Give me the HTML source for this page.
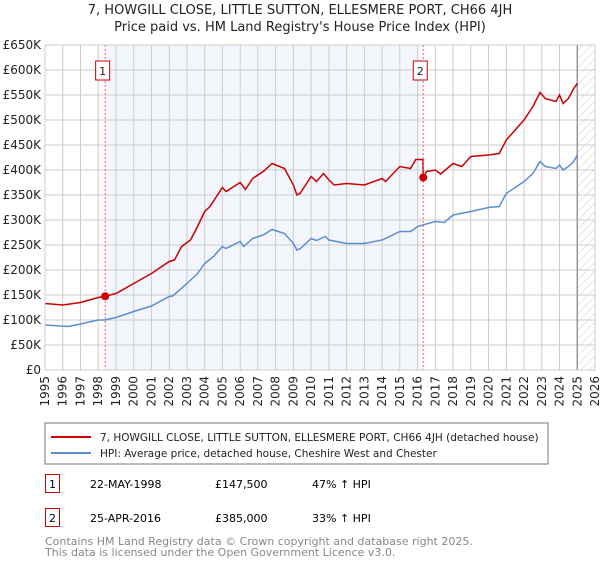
<!DOCTYPE html>
<html><head><meta charset="utf-8"><style>
body{margin:0;background:#fff;font-family:"Liberation Sans","DejaVu Sans",sans-serif;}
svg text{font-family:"DejaVu Sans","Liberation Sans",sans-serif;}
</style></head><body>
<svg id="chart" width="600" height="560" xmlns="http://www.w3.org/2000/svg">
<defs><pattern id="hatch" width="6" height="6" patternUnits="userSpaceOnUse" patternTransform="rotate(45)"><line x1="0" y1="0" x2="0" y2="6" stroke="#ccc" stroke-width="1"/></pattern></defs>
<text x="300" y="14" text-anchor="middle" font-size="13" fill="#222">7, HOWGILL CLOSE, LITTLE SUTTON, ELLESMERE PORT, CH66 4JH</text>
<text x="300" y="31" text-anchor="middle" font-size="13" fill="#222">Price paid vs. HM Land Registry's House Price Index (HPI)</text>
<g id="plot"></g>
<rect x="45" y="423" width="503" height="41" fill="#fff" stroke="#777"/>
<line x1="51" y1="437" x2="91" y2="437" stroke="#cc0000" stroke-width="2"/>
<text x="100" y="441" font-size="10.5" fill="#222">7, HOWGILL CLOSE, LITTLE SUTTON, ELLESMERE PORT, CH66 4JH (detached house)</text>
<line x1="51" y1="453" x2="91" y2="453" stroke="#5b8fd0" stroke-width="2"/>
<text x="100" y="457" font-size="10.5" fill="#222">HPI: Average price, detached house, Cheshire West and Chester</text>
<g>
<rect x="45.5" y="474.5" width="14" height="18" fill="#fff" stroke="#cc0000"/><text x="52.5" y="488" text-anchor="middle" font-size="11">1</text>
<text x="90" y="488" font-size="11">22-MAY-1998</text><text x="215" y="488" font-size="11">£147,500</text><text x="312" y="488" font-size="11">47% ↑ HPI</text></g>
<g>
<rect x="45.5" y="508.5" width="14" height="18" fill="#fff" stroke="#cc0000"/><text x="52.5" y="522" text-anchor="middle" font-size="11">2</text>
<text x="90" y="522" font-size="11">25-APR-2016</text><text x="215" y="522" font-size="11">£385,000</text><text x="312" y="522" font-size="11">33% ↑ HPI</text></g>
<text x="45" y="545" font-size="11" fill="#888">Contains HM Land Registry data © Crown copyright and database right 2025.</text>
<text x="45" y="556" font-size="11" fill="#888">This data is licensed under the Open Government Licence v3.0.</text>
</svg>
<script>
const hpiYears=[1995,1996.3,1997,1998,1998.39,1999,2000,2001,2002,2002.2,2003,2003.6,2004,2004.5,2005,2005.2,2006,2006.2,2006.7,2007.3,2007.8,2008.5,2009,2009.2,2009.4,2010,2010.3,2010.8,2011,2012,2013,2014,2015,2015.6,2016,2016.3,2017,2017.5,2018,2019,2020,2020.6,2021,2022,2022.5,2022.9,2023.2,2023.8,2024,2024.2,2024.5,2024.8,2025];
const hpiValues=[90,87,92,100,100,105,117,128,147,148,173,193,213,227,247,243,257,247,263,270,281,273,253,240,243,263,259,267,260,253,253,260,277,277,287,290,297,295,310,317,325,327,353,377,393,417,407,403,410,400,407,417,430];
const propYears=[1995,1996,1997,1998,1998.39,1999,2000,2001,2002,2002.3,2002.7,2003.2,2003.5,2004,2004.3,2005,2005.2,2006,2006.3,2006.7,2007.3,2007.8,2008.5,2009,2009.2,2009.37,2010,2010.3,2010.7,2011,2011.3,2012,2013,2014,2014.2,2015,2015.6,2015.9,2016.3,2016.32,2016.5,2017,2017.3,2018,2018.5,2019,2020,2020.6,2021,2022,2022.5,2022.9,2023.2,2023.8,2024,2024.2,2024.5,2024.8,2025];
const propValues=[133,130,135,145,147.5,153,173,193,217,220,247,260,280,317,327,365,357,375,361,383,397,413,403,370,350,353,387,377,393,380,370,373,370,383,377,407,403,421,421,385,397,400,392,413,407,427,430,433,460,500,527,555,543,537,550,533,543,563,573];
const saleYears=[1998.39,2016.32];
const saleValues=[147.5,385];
const yTicks=[0,50,100,150,200,250,300,350,400,450,500,550,600,650];
const xTicks=[1995,1996,1997,1998,1999,2000,2001,2002,2003,2004,2005,2006,2007,2008,2009,2010,2011,2012,2013,2014,2015,2016,2017,2018,2019,2020,2021,2022,2023,2024,2025,2026];
const L=45,R=595,T=45,B=370,x0=1995,x1=2026,ymax=650;
const X=v=>L+(v-x0)/(x1-x0)*(R-L);
const Y=v=>B-v/ymax*(B-T);
const NS='http://www.w3.org/2000/svg';
const g=document.getElementById('plot');
function mk(tag,at){const e=document.createElementNS(NS,tag);for(const k in at)e.setAttribute(k,at[k]);g.appendChild(e);return e;}
let e;
e=mk('rect',{x:X(saleYears[0]),y:T,width:X(saleYears[1])-X(saleYears[0]),height:B-T,fill:'#f3f6fd'});


e=mk('rect',{x:X(2025),y:T,width:R-X(2025),height:B-T,fill:'url(#hatch)'});


yTicks.forEach(t=>{mk('line',{x1:L,x2:R,y1:Y(t),y2:Y(t),stroke:'#ccc'});
e=mk('text',{x:L-4,y:Y(t)+4,'text-anchor':'end','font-size':12,fill:'#222'});e.textContent=t===0?'£0':'£'+t+'K';

});
xTicks.forEach(t=>{mk('line',{x1:X(t),x2:X(t),y1:T,y2:B,stroke:'#ccc'});
e=mk('text',{x:0,y:0,'text-anchor':'end','font-size':12,fill:'#222',transform:`translate(${X(t)+4},${B+6}) rotate(-90)`});e.textContent=t;

});
mk('line',{x1:X(2025),x2:X(2025),y1:T,y2:B,stroke:'#999','stroke-width':1.5});
const path=(xs,vs)=>xs.map((x,i)=>(i?'L':'M')+X(x).toFixed(1)+','+Y(vs[i]).toFixed(1)).join('');
e=mk('path',{d:path(hpiYears,hpiValues),fill:'none',stroke:'#5b8fd0','stroke-width':1.5});


e=mk('path',{d:path(propYears,propValues),fill:'none',stroke:'#cc0000','stroke-width':1.5});


saleYears.forEach((s,i)=>{
mk('line',{x1:X(s),x2:X(s),y1:T,y2:B,stroke:'#e66','stroke-dasharray':'2,2'});
e=mk('circle',{cx:X(s),cy:Y(saleValues[i]),r:4,fill:'#cc0000'});


const bx=X(s)-(i?3:2.5);
mk('rect',{x:bx-7,y:61,width:14,height:19,fill:'#fff',stroke:'#cc0000'});
e=mk('text',{x:bx,y:75,'text-anchor':'middle','font-size':11,fill:'#222'});e.textContent=String(i+1);


});
mk('rect',{x:L,y:T,width:R-L,height:B-T,fill:'none',stroke:'#ccc'});
</script>
</body></html>
